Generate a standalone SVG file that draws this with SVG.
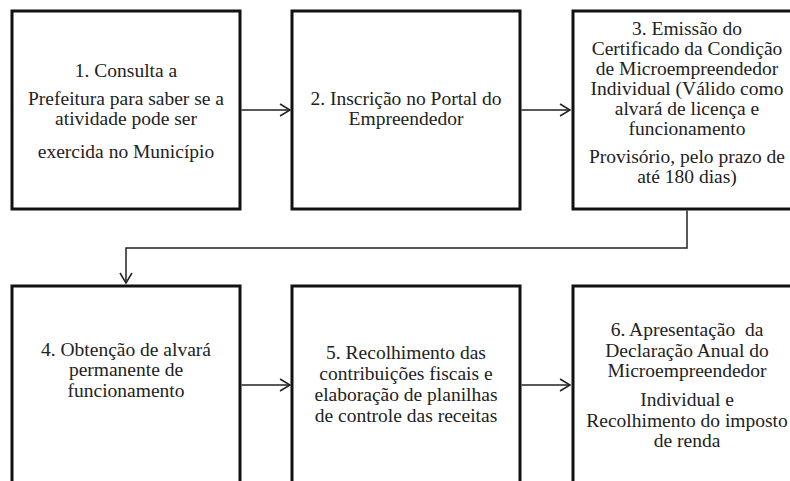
<svg xmlns="http://www.w3.org/2000/svg" width="790" height="481" viewBox="0 0 790 481">
  <style>
    .box { fill: #ffffff; stroke: #111111; stroke-width: 3; }
    .lbl { font-family: "Liberation Serif", "Times New Roman", serif; font-size: 19.5px; fill: #222222; text-anchor: middle; }
    .conn { fill: none; stroke: #222222; stroke-width: 1.5; }
  </style>
  <defs>
    <marker id="arr" markerWidth="14" markerHeight="14" refX="11" refY="7" orient="auto" markerUnits="userSpaceOnUse">
      <path d="M1,1 L11,7 L1,13" fill="none" stroke="#222222" stroke-width="1.5"/>
    </marker>
  </defs>
  <rect width="790" height="481" fill="#ffffff"/>

  <g id="connectors">
    <line class="conn" x1="241.5" y1="110" x2="290" y2="110" marker-end="url(#arr)"/>
    <line class="conn" x1="521.5" y1="110" x2="570" y2="110" marker-end="url(#arr)"/>
    <polyline class="conn" points="687,210.5 687,248 126,248 126,283" marker-end="url(#arr)"/>
    <line class="conn" x1="241.5" y1="385" x2="290" y2="385" marker-end="url(#arr)"/>
    <line class="conn" x1="521.5" y1="385" x2="570" y2="385" marker-end="url(#arr)"/>
  </g>

  <g id="node1">
    <rect class="box" x="12" y="11" width="228" height="198"/>
    <text class="lbl" x="126" y="77">1. Consulta a</text>
    <text class="lbl" x="126" y="105">Prefeitura para saber se a</text>
    <text class="lbl" x="126" y="125">atividade pode ser</text>
    <text class="lbl" x="126" y="158">exercida no Município</text>
  </g>

  <g id="node2">
    <rect class="box" x="292" y="11" width="228" height="198"/>
    <text class="lbl" x="406" y="105">2. Inscrição no Portal do</text>
    <text class="lbl" x="406" y="125">Empreendedor</text>
  </g>

  <g id="node3">
    <rect class="box" x="573" y="11" width="228" height="198"/>
    <text class="lbl" x="687" y="35">3. Emissão do</text>
    <text class="lbl" x="687" y="55">Certificado da Condição</text>
    <text class="lbl" x="687" y="75">de Microempreendedor</text>
    <text class="lbl" x="687" y="95">Individual (Válido como</text>
    <text class="lbl" x="687" y="115">alvará de licença e</text>
    <text class="lbl" x="687" y="135">funcionamento</text>
    <text class="lbl" x="687" y="163">Provisório, pelo prazo de</text>
    <text class="lbl" x="687" y="183">até 180 dias)</text>
  </g>

  <g id="node4">
    <rect class="box" x="12" y="286" width="228" height="198"/>
    <text class="lbl" x="126" y="356">4. Obtenção de alvará</text>
    <text class="lbl" x="126" y="376">permanente de</text>
    <text class="lbl" x="126" y="397">funcionamento</text>
  </g>

  <g id="node5">
    <rect class="box" x="292" y="286" width="228" height="198"/>
    <text class="lbl" x="406" y="359">5. Recolhimento das</text>
    <text class="lbl" x="406" y="380">contribuições fiscais e</text>
    <text class="lbl" x="406" y="401">elaboração de planilhas</text>
    <text class="lbl" x="406" y="422">de controle das receitas</text>
  </g>

  <g id="node6">
    <rect class="box" x="573" y="286" width="228" height="198"/>
    <text class="lbl" x="687" y="336" xml:space="preserve" style="white-space:pre">6. Apresentação  da</text>
    <text class="lbl" x="687" y="357">Declaração Anual do</text>
    <text class="lbl" x="687" y="377">Microempreendedor</text>
    <text class="lbl" x="687" y="406">Individual e</text>
    <text class="lbl" x="687" y="427">Recolhimento do imposto</text>
    <text class="lbl" x="687" y="447">de renda</text>
  </g>
</svg>
